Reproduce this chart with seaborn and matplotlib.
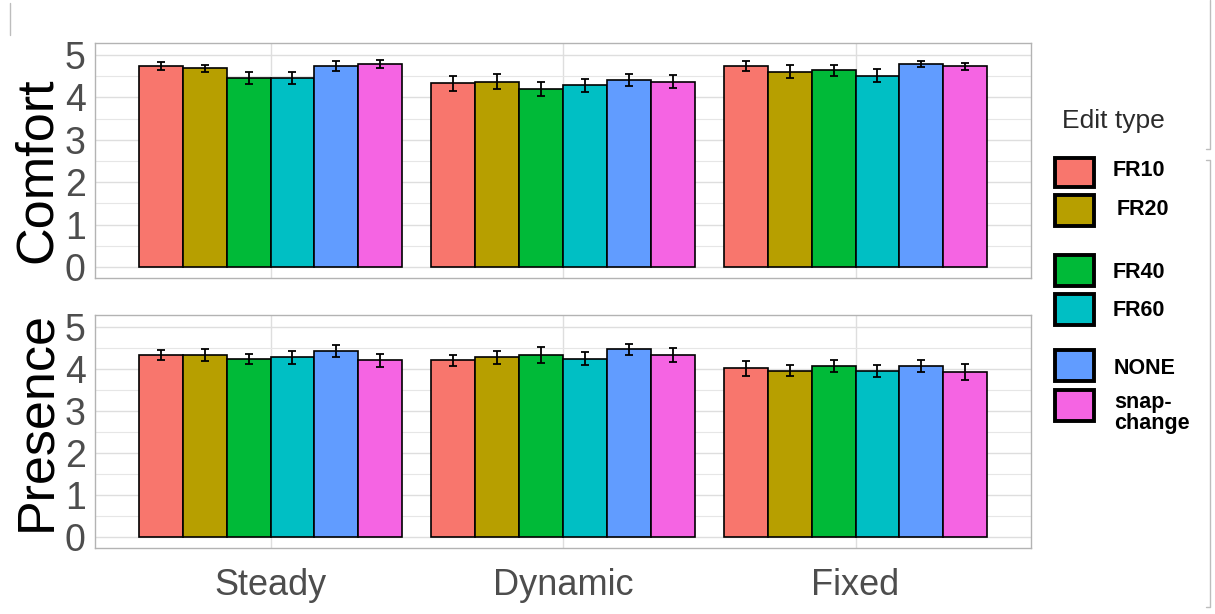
import numpy as np
import pandas as pd
import matplotlib
matplotlib.use("Agg")
import matplotlib.pyplot as plt
import seaborn as sns
from matplotlib.container import BarContainer
from matplotlib.lines import Line2D
from matplotlib.patches import Rectangle
from matplotlib.ticker import MultipleLocator

# ---- data -----------------------------------------------------------------
conditions = ["Steady", "Dynamic", "Fixed"]
edit_types = ["FR10", "FR20", "FR40", "FR60", "NONE", "snap-change"]
legend_labels = ["FR10", "FR20", "FR40", "FR60", "NONE", "snap-\nchange"]

# mean ratings: one row per condition, one column per edit type
comfort_mean = [
    [4.74, 4.68, 4.46, 4.46, 4.74, 4.78],
    [4.33, 4.37, 4.19, 4.28, 4.41, 4.37],
    [4.74, 4.60, 4.64, 4.51, 4.78, 4.73],
]
comfort_se = [
    [0.10, 0.09, 0.14, 0.14, 0.12, 0.09],
    [0.17, 0.17, 0.17, 0.15, 0.15, 0.15],
    [0.12, 0.15, 0.13, 0.15, 0.07, 0.09],
]
presence_mean = [
    [4.32, 4.32, 4.23, 4.27, 4.42, 4.20],
    [4.20, 4.27, 4.33, 4.24, 4.46, 4.33],
    [4.01, 3.96, 4.06, 3.95, 4.06, 3.92],
]
presence_se = [
    [0.12, 0.14, 0.12, 0.15, 0.14, 0.15],
    [0.14, 0.15, 0.18, 0.15, 0.12, 0.17],
    [0.17, 0.14, 0.14, 0.14, 0.14, 0.19],
]

palette = ["#F8766D", "#B79F00", "#00BA38", "#00BFC4", "#619CFF", "#F564E3"]

# ---- style ------------------------------------------------------------------
sns.set_style("white")
plt.rcParams["font.family"] = ["Liberation Sans", "DejaVu Sans"]

W, H = 1215, 614
fig = plt.figure(figsize=(W / 100, H / 100), dpi=100)
fig.patch.set_facecolor("white")

ax_top = fig.add_axes([95 / W, 1 - 278 / H, 936 / W, 235 / H])
ax_bot = fig.add_axes([95 / W, 1 - 548 / H, 936 / W, 233 / H])


def draw_panel(ax, means, errs, show_xlabels):
    df = pd.DataFrame(
        [(c, e, means[i][j]) for i, c in enumerate(conditions)
         for j, e in enumerate(edit_types)],
        columns=["Condition", "Edit type", "Score"],
    )
    sns.barplot(
        data=df, x="Condition", y="Score", hue="Edit type",
        order=conditions, hue_order=edit_types, palette=palette,
        width=0.9, errorbar=None, edgecolor="black", linewidth=1.2,
        saturation=1, legend=False, ax=ax, zorder=2,
    )
    # standard-error whiskers on top of every bar
    bar_groups = [c for c in ax.containers if isinstance(c, BarContainer)]
    for h, cont in enumerate(bar_groups):
        for bar in cont:
            if bar is None:
                continue
            cx = bar.get_x() + bar.get_width() / 2
            ci = int(round(cx))
            ax.errorbar(
                cx, bar.get_height(), yerr=errs[ci][h], fmt="none",
                ecolor="black", elinewidth=1.3, capsize=3.2, capthick=1.3,
                zorder=3,
            )

    ax.set_xlim(-0.6, 2.6)
    ax.set_ylim(-0.26, 5.28)
    ax.yaxis.set_major_locator(MultipleLocator(1))
    ax.yaxis.set_minor_locator(MultipleLocator(0.5))
    ax.set_axisbelow(True)
    ax.grid(which="major", color="#DEDEDE", linewidth=1.0, zorder=0)
    ax.grid(which="minor", axis="y", color="#E6E6E6", linewidth=0.8, zorder=0)
    for s in ax.spines.values():
        s.set_color("#B3B3B3")
        s.set_linewidth(1.0)
    ax.tick_params(axis="both", which="major", length=3.6, width=0.9,
                   color="#B3B3B3", labelcolor="#4D4D4D")
    ax.tick_params(axis="y", which="major", pad=3, labelsize=27)
    ax.tick_params(axis="x", which="major", pad=11, labelsize=26)
    ax.tick_params(which="minor", length=0)
    ax.set_xlabel("")
    ax.set_ylabel("")
    if not show_xlabels:
        ax.set_xticklabels([])


draw_panel(ax_top, comfort_mean, comfort_se, show_xlabels=False)
draw_panel(ax_bot, presence_mean, presence_se, show_xlabels=True)

# facet row titles on the left
fig.text(37 / W, 1 - 170 / H, "Comfort", rotation=90, fontsize=37.5,
         ha="center", va="center", color="black")
fig.text(37 / W, 1 - 421 / H, "Presence", rotation=90, fontsize=37.5,
         ha="center", va="center", color="black")

# ---- legend -----------------------------------------------------------------
fig.text(1113 / W, 1 - 121 / H, "Edit type", fontsize=19, ha="center",
         va="center", color="#2B2B2B")

key_rows = [(156, 189), (193, 228), (253, 288), (292, 327), (348, 383), (388, 423)]
label_pos = [(1113, 170), (1117, 210), (1113, 273), (1113, 310), (1114, 368), (1114, 413)]
for color, (y0, y1), (lx, ly), lab in zip(palette, key_rows, label_pos, legend_labels):
    fig.patches.append(Rectangle(
        ((1053 + 2) / W, 1 - (y1 - 2) / H), (43 - 4) / W, (y1 - y0 - 4) / H,
        transform=fig.transFigure, facecolor=color, edgecolor="black",
        linewidth=2.8,
    ))
    fig.text(lx / W, 1 - ly / H, lab, fontsize=15.5, fontweight="bold",
             ha="left", va="center", color="black", linespacing=1.0)

# thin frame edges around the figure
frame_kw = dict(transform=fig.transFigure, color="#BDBDBD", linewidth=1.0)
fig.lines.append(Line2D([10 / W, 10 / W], [1 - 3 / H, 1 - 35 / H], **frame_kw))
fig.lines.append(Line2D([1210 / W, 1210 / W, 1206 / W],
                        [1.0, 1 - 149 / H, 1 - 149 / H], **frame_kw))
fig.lines.append(Line2D([1206 / W, 1210 / W, 1210 / W, 1206 / W],
                        [1 - 160 / H, 1 - 160 / H, 1 - 607 / H, 1 - 607 / H],
                        **frame_kw))

fig.savefig("out.png", dpi=100)
